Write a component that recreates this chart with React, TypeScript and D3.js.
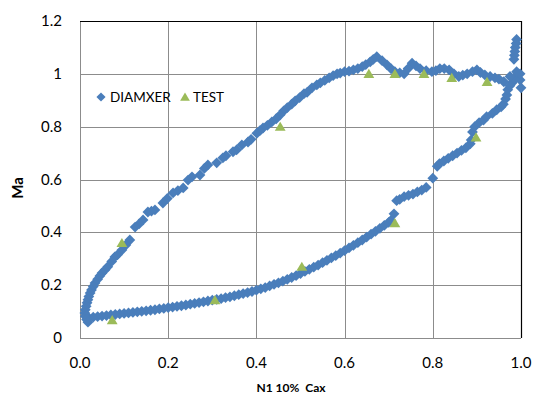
import React, { useEffect, useRef } from "react";
import * as d3 from "d3";

// DIAMXER: lower branch (left to right), then up the right side, spike, then the upper branch back to the tip
const diamX = [
  0.02, 0.03, 0.04, 0.05, 0.06, 0.07, 0.08, 0.09, 0.10, 0.11, 0.12, 0.13, 0.14, 0.15, 0.16, 0.17, 0.18, 0.19,
  0.20, 0.21, 0.22, 0.23, 0.24, 0.25, 0.26, 0.27, 0.28, 0.29, 0.30, 0.31, 0.32, 0.33, 0.34, 0.35, 0.36, 0.37,
  0.38, 0.39, 0.40, 0.41, 0.42, 0.43, 0.44, 0.45, 0.46, 0.47, 0.48, 0.49, 0.50, 0.51, 0.52, 0.53, 0.54, 0.55,
  0.56, 0.57, 0.58, 0.59, 0.60, 0.61, 0.62, 0.63, 0.64, 0.65, 0.66, 0.67, 0.68, 0.69, 0.70,
  0.705, 0.712, 0.718, 0.725, 0.735, 0.745, 0.755, 0.765, 0.775, 0.785, 0.80, 0.81,
  0.815, 0.825, 0.835, 0.845, 0.855, 0.865, 0.875, 0.885, 0.887, 0.89, 0.895, 0.905, 0.915, 0.922,
  0.935, 0.945, 0.955, 0.96, 0.965, 0.968, 0.97, 0.975, 0.98, 0.985, 0.993,
  0.998, 1.0, 0.998,
  0.99, 0.989, 0.987, 0.986, 0.985, 0.984,
  0.99, 0.975, 0.961, 0.95, 0.941, 0.93, 0.918, 0.908, 0.90, 0.89, 0.878, 0.868, 0.859, 0.848, 0.837, 0.826,
  0.816, 0.807, 0.798, 0.785, 0.771, 0.762, 0.753, 0.744, 0.735, 0.725, 0.714, 0.705, 0.696, 0.685, 0.673,
  0.665, 0.658, 0.648, 0.64, 0.63, 0.62, 0.61, 0.60, 0.59, 0.583, 0.574, 0.565, 0.555, 0.545, 0.537, 0.526,
  0.515, 0.508, 0.498, 0.488, 0.48, 0.47, 0.462, 0.454, 0.445, 0.435, 0.425, 0.415, 0.408, 0.401, 0.388, 0.381,
  0.367, 0.355, 0.347, 0.331, 0.324, 0.31, 0.29, 0.282, 0.272, 0.254, 0.245, 0.234, 0.222, 0.211, 0.198, 0.188,
  0.17, 0.162, 0.154, 0.143, 0.134, 0.125, 0.113, 0.104, 0.095,
  0.085, 0.079, 0.072, 0.063, 0.057, 0.05, 0.045, 0.04, 0.034, 0.03, 0.026, 0.023, 0.02, 0.018, 0.016, 0.014,
  0.012, 0.011, 0.012, 0.015, 0.018,
];
const diamY = [
  0.076, 0.079, 0.081, 0.083, 0.085, 0.087, 0.089, 0.091, 0.093, 0.095, 0.097, 0.099, 0.101, 0.103, 0.105, 0.107, 0.110, 0.112,
  0.115, 0.117, 0.120, 0.122, 0.125, 0.128, 0.131, 0.134, 0.137, 0.140, 0.143, 0.146, 0.149, 0.153, 0.156, 0.160, 0.164, 0.168,
  0.172, 0.176, 0.181, 0.186, 0.191, 0.197, 0.203, 0.209, 0.215, 0.222, 0.229, 0.236, 0.244, 0.252, 0.260, 0.268, 0.276, 0.285,
  0.294, 0.303, 0.312, 0.321, 0.331, 0.341, 0.351, 0.361, 0.371, 0.382, 0.393, 0.404, 0.415, 0.426, 0.438,
  0.445, 0.47, 0.52, 0.525, 0.535, 0.54, 0.545, 0.553, 0.56, 0.57, 0.605, 0.65,
  0.66, 0.67, 0.68, 0.69, 0.70, 0.71, 0.72, 0.735, 0.75, 0.78, 0.80, 0.815, 0.825, 0.838,
  0.85, 0.864, 0.875, 0.885, 0.905, 0.92, 0.94, 0.955, 0.966, 0.98, 1.0,
  0.977, 0.947, 1.0,
  1.13, 1.115, 1.10, 1.085, 1.07, 1.055,
  1.008, 0.99, 0.97, 0.98, 0.985, 0.99, 0.996, 1.005, 1.015, 1.008, 1.0, 0.995, 0.99, 1.0, 1.015, 1.02,
  1.02, 1.012, 1.008, 1.012, 1.02, 1.03, 1.04, 1.02, 1.0, 1.004, 1.008, 1.02, 1.034, 1.05, 1.065,
  1.055, 1.045, 1.035, 1.027, 1.02, 1.015, 1.01, 1.008, 1.003, 1.0, 0.993, 0.985, 0.975, 0.966, 0.958, 0.947,
  0.93, 0.925, 0.91, 0.898, 0.885, 0.872, 0.86, 0.845, 0.83, 0.818, 0.805, 0.795, 0.785, 0.775, 0.752, 0.742,
  0.731, 0.712, 0.705, 0.69, 0.682, 0.663, 0.655, 0.642, 0.617, 0.61, 0.598, 0.568, 0.558, 0.549, 0.528, 0.511,
  0.485, 0.48, 0.477, 0.447, 0.432, 0.42, 0.371, 0.352, 0.333,
  0.315, 0.307, 0.29, 0.27, 0.258, 0.246, 0.235, 0.222, 0.208, 0.195, 0.182, 0.17, 0.157, 0.145, 0.133, 0.12,
  0.107, 0.095, 0.082, 0.07, 0.06,
];

const testX = [0.073, 0.095, 0.306, 0.454, 0.503, 0.655, 0.714, 0.714, 0.78, 0.843, 0.898, 0.923];
const testY = [0.068, 0.36, 0.144, 0.80, 0.27, 1.0, 0.435, 1.0, 1.0, 0.985, 0.76, 0.97];

const xTicks = [0, 0.2, 0.4, 0.6, 0.8, 1.0];
const yTicks = [0, 0.2, 0.4, 0.6, 0.8, 1, 1.2];

const BLUE = "#4a7ebb";
const GREEN = "#9bbb59";
const FONT = "Lato, 'Open Sans', sans-serif";

const diamondPath = "M0,-5.4L5.4,0L0,5.4L-5.4,0Z";
const trianglePath = "M0,-5L5.4,4.2L-5.4,4.2Z";

export default function App() {
  const svgRef = useRef<SVGSVGElement>(null);

  useEffect(() => {
    const margin = { top: 21, right: 33, bottom: 65, left: 80 };
    const width = 554;
    const height = 403;

    const svg = d3.select(svgRef.current);
    svg.selectAll("*").remove();

    const x = d3.scaleLinear().domain([0, 1]).range([margin.left, width - margin.right]);
    const y = d3.scaleLinear().domain([0, 1.2]).range([height - margin.bottom, margin.top]);

    // grid
    svg.append("g")
      .selectAll("line")
      .data(xTicks)
      .join("line")
      .attr("x1", (d) => Math.round(x(d)) + 0.5)
      .attr("x2", (d) => Math.round(x(d)) + 0.5)
      .attr("y1", y(0))
      .attr("y2", y(1.2))
      .attr("stroke", "#8c8c8c")
      .attr("stroke-width", 1);
    svg.append("g")
      .selectAll("line")
      .data(yTicks)
      .join("line")
      .attr("x1", x(0))
      .attr("x2", x(1))
      .attr("y1", (d) => Math.round(y(d)) + 0.5)
      .attr("y2", (d) => Math.round(y(d)) + 0.5)
      .attr("stroke", "#8c8c8c")
      .attr("stroke-width", 1);

    // top + right frame in black
    svg.append("path")
      .attr("d", `M${x(0)},${Math.round(y(1.2)) + 0.5}H${Math.round(x(1)) + 0.5}V${y(0)}`)
      .attr("fill", "none")
      .attr("stroke", "#000")
      .attr("stroke-width", 1.2);

    // tick labels
    svg.append("g")
      .selectAll("text")
      .data(yTicks)
      .join("text")
      .attr("x", 62)
      .attr("y", (d) => y(d) + 5)
      .attr("text-anchor", "end")
      .style("font-family", FONT)
      .style("font-size", "15px")
      .attr("fill", "#000")
      .text((d) => (d === 0 ? "0" : d === 1 ? "1" : d3.format(".1f")(d)));
    svg.append("g")
      .selectAll("text")
      .data(xTicks)
      .join("text")
      .attr("x", (d) => x(d))
      .attr("y", 368)
      .attr("text-anchor", "middle")
      .style("font-family", FONT)
      .style("font-size", "15px")
      .attr("fill", "#000")
      .text((d) => d3.format(".1f")(d));

    // axis titles
    svg.append("text")
      .attr("x", 291)
      .attr("y", 392)
      .attr("text-anchor", "middle")
      .style("font-family", FONT)
      .style("font-size", "12px")
      .style("font-weight", "bold")
      .style("white-space", "pre")
      .text("N1 10%  Cax");
    svg.append("text")
      .attr("transform", "translate(23,188) rotate(-90)")
      .attr("text-anchor", "middle")
      .style("font-family", FONT)
      .style("font-size", "15px")
      .style("font-weight", "bold")
      .text("Ma");

    // DIAMXER points
    svg.append("g")
      .selectAll("path")
      .data(diamX.map((d, i) => [d, diamY[i]]))
      .join("path")
      .attr("d", diamondPath)
      .attr("transform", (d) => `translate(${x(d[0])},${y(d[1])})`)
      .attr("fill", BLUE);

    // TEST points
    svg.append("g")
      .selectAll("path")
      .data(testX.map((d, i) => [d, testY[i]]))
      .join("path")
      .attr("d", trianglePath)
      .attr("transform", (d) => `translate(${x(d[0])},${y(d[1])})`)
      .attr("fill", GREEN);

    // legend
    const legend = svg.append("g");
    legend.append("path").attr("d", diamondPath).attr("transform", "translate(101,97) scale(0.85)").attr("fill", BLUE);
    legend.append("text")
      .attr("x", 110)
      .attr("y", 102)
      .style("font-family", FONT)
      .style("font-size", "13.5px")
      .text("DIAMXER");
    legend.append("path").attr("d", trianglePath).attr("transform", "translate(185,97) scale(0.9)").attr("fill", GREEN);
    legend.append("text")
      .attr("x", 193)
      .attr("y", 102)
      .style("font-family", FONT)
      .style("font-size", "13.5px")
      .text("TEST");
  }, []);

  return (
    <svg
      ref={svgRef}
      width={554}
      height={403}
      style={{ position: "absolute", left: 0, top: 0, background: "#fff", display: "block" }}
    />
  );
}
